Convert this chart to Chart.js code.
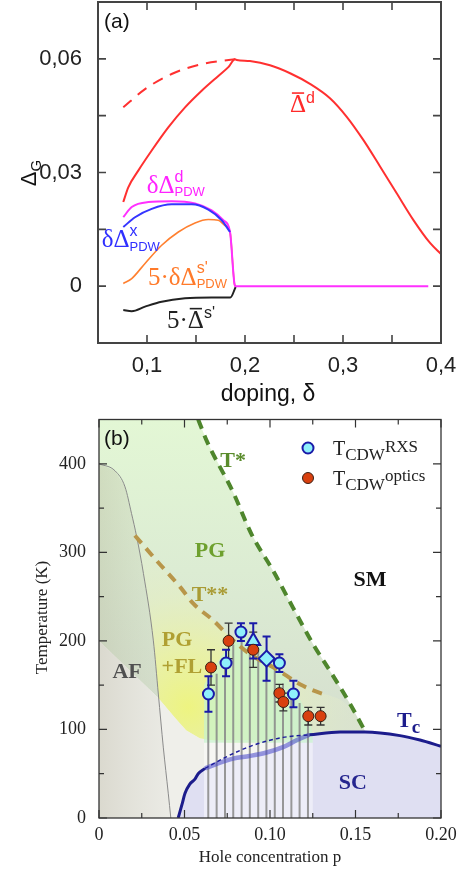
<!DOCTYPE html>
<html>
<head>
<meta charset="utf-8">
<script src="https://cdn.jsdelivr.net/npm/chart.js@4.4.1/dist/chart.umd.min.js"></script>
<style>
  html, body { margin: 0; padding: 0; background: #fff; }
  #wrap { position: relative; width: 465px; height: 872px; }
  canvas { position: absolute; left: 0; }
  #chartA { top: 0; }
  #chartB { top: 412px; }
</style>
</head>
<body>
<div id="wrap">
  <canvas id="chartA" width="465" height="412"></canvas>
  <canvas id="chartB" width="465" height="460"></canvas>
</div>
<script>
// ========================================
// PANEL (a) DATA
// ========================================
const aXTicks = [0.1, 0.15, 0.2, 0.25, 0.3, 0.35];
const aXLabels = [0.1, 0.2, 0.3, 0.4];
const aYTicks = [0, 0.015, 0.03, 0.045, 0.06];
const aYLabels = [0, 0.03, 0.06];

// red, mean d-wave gap
const dBarX = [0.0758, 0.0809, 0.0911, 0.1048, 0.1217, 0.1388, 0.1558, 0.1728, 0.183, 0.1898, 0.1915, 0.205, 0.2255, 0.246, 0.2663, 0.2867, 0.3038, 0.3207, 0.3378, 0.3548, 0.3717, 0.3888, 0.4];
const dBarY = [0.0222, 0.0261, 0.0305, 0.0358, 0.0419, 0.0472, 0.0516, 0.0555, 0.0578, 0.0599, 0.0597, 0.0594, 0.0583, 0.0562, 0.0534, 0.0496, 0.0447, 0.0386, 0.0316, 0.0245, 0.0175, 0.0114, 0.0085];
// red dashed
const dDashX = [0.0758, 0.098, 0.1251, 0.1558, 0.19];
const dDashY = [0.0472, 0.052, 0.056, 0.0586, 0.0599];
// magenta, d-wave PDW
const pdwDX = [0.0758, 0.0844, 0.1013, 0.1252, 0.149, 0.166, 0.1779, 0.1847, 0.1895, 0.1905, 0.387];
const pdwDY = [0.0182, 0.0209, 0.0222, 0.0224, 0.0218, 0.02, 0.0174, 0.0143, 0.0003, 0, 0];
// blue, x PDW
const pdwXX = [0.0758, 0.0878, 0.1048, 0.1252, 0.1456, 0.1626, 0.1762, 0.1847];
const pdwXY = [0.0156, 0.0182, 0.0204, 0.0216, 0.0216, 0.0202, 0.0174, 0.0143];
// orange, 5 x s' PDW
const pdwSX = [0.0758, 0.0844, 0.098, 0.115, 0.132, 0.149, 0.1626, 0.1728, 0.1796, 0.1847, 0.1895, 0.1905];
const pdwSY = [0.0007, 0.002, 0.006, 0.0108, 0.0143, 0.0167, 0.0176, 0.0174, 0.016, 0.0143, 0.0003, 0];
// black, 5 x mean s'
const sBarX = [0.0758, 0.0844, 0.098, 0.115, 0.1388, 0.166, 0.185, 0.1905];
const sBarY = [-0.0063, -0.0066, -0.0054, -0.0041, -0.0032, -0.003, -0.003, -0.0002];

// ========================================
// PANEL (b) DATA
// ========================================
const bXMajor = [0, 0.05, 0.1, 0.15, 0.2];
const bXMinor = [0.025, 0.075, 0.125, 0.175];
const bYMajor = [0, 100, 200, 300, 400];
const bYMinor = [50, 150, 250, 350];

const tStarP = [0.058, 0.0632, 0.0784, 0.0893, 0.1019, 0.1136, 0.1253, 0.1361, 0.1468, 0.1556];
const tStarT = [450, 425, 368, 320, 279, 237, 196, 163, 129, 98];
const tStar2P = [0.021, 0.034, 0.0474, 0.0552, 0.0669, 0.0766, 0.0883, 0.1039, 0.1175, 0.1312, 0.134];
const tStar2T = [319, 290, 261, 242, 223, 204, 185, 168, 151, 140, 139];
const afP = [0, 0.0094, 0.0152, 0.019, 0.022, 0.026, 0.0318, 0.0347, 0.0376, 0.0405, 0.042];
const afT = [400, 392, 374, 344, 318, 276, 200, 140, 80, 28, 0];
// lower edge of the pseudogap shading
const lowEdgeP = [0, 0.035, 0.045, 0.051, 0.059, 0.075, 0.1, 0.123];
const lowEdgeT = [200, 135, 112, 99, 90, 85, 85, 94];
// yellow edge between the end of T** and T*
const fleEdgeP = [0.141, 0.1468];
const fleEdgeT = [134, 125];

const tcLeftP = [0.0463, 0.0485, 0.0503, 0.053, 0.0561, 0.058, 0.062];
const tcLeftT = [0, 15, 28, 38, 44, 50, 56];
const tcMidP = [0.062, 0.07, 0.0784, 0.088, 0.098, 0.1076, 0.1158, 0.123];
const tcMidT = [56, 62, 67, 70, 74, 80, 88, 94];
const tcDashP = [0.062, 0.0755, 0.09, 0.1076, 0.123];
const tcDashT = [56, 70, 82, 91, 94];
const tcRightP = [0.123, 0.141, 0.1556, 0.176, 0.1877, 0.2];
const tcRightT = [94, 97, 97, 93, 88, 81];

const cdwP = [0.0639, 0.0688, 0.0737, 0.0785, 0.0834, 0.0882, 0.0931, 0.0979, 0.1028, 0.1076, 0.1125, 0.1173, 0.1222];
const cdwTop = [140, 163, 176, 196, 206, 203, 192, 180, 172, 152, 145, 130, 110];
const domeP = [0.0614, 0.0614, 0.065, 0.07, 0.0766, 0.0854, 0.093, 0.098, 0.105, 0.112, 0.118, 0.1235, 0.125, 0.125];
const domeT = [85, 150, 163, 178, 196, 206, 200, 188, 170, 150, 132, 110, 90, 85];
const shadeP = [0.0614, 0.125];
const shadeT = [0, 88];

const rxsP = [0.064, 0.0743, 0.083, 0.0902, 0.098, 0.1055, 0.1137];
const rxsT = [140, 175, 210, 200, 180, 175, 140];
const rxsErr = [20, 15, 10, 20, 25, 10, 15];
const rxsShape = ['circle', 'circle', 'circle', 'triangle', 'rectRot', 'circle', 'circle'];
const optP = [0.0655, 0.0758, 0.0902, 0.1055, 0.1078, 0.1224, 0.1296];
const optT = [170, 200, 190, 141, 131, 115, 115];
const optErr = [20, 20, 20, 10, 10, 10, 10];

// ========================================
// HELPERS
// ========================================
const SANS = '"Liberation Sans", Arial, sans-serif';
const SERIF = '"Liberation Serif", "Times New Roman", serif';
const xy = (xs, ys) => xs.map((x, i) => ({ x, y: ys[i] }));
const rev = (a) => a.slice().reverse();

// draws text pieces one after another (sub/superscripts via dy)
function rich(ctx, x, y, parts, align) {
  let w = 0;
  parts.forEach(p => { ctx.font = p.f; if (!p.keep) w += ctx.measureText(p.t).width; });
  let cx = align === 'center' ? x - w / 2 : x;
  parts.forEach(p => {
    ctx.font = p.f;
    const tw = ctx.measureText(p.t).width;
    ctx.fillText(p.t, cx, y + (p.dy || 0));
    if (p.bar) ctx.fillRect(cx + tw * 0.12, y - p.bar, tw * 0.76, 1.6);
    if (!p.keep) cx += tw;
  });
}

function boxTicks(chart, o) {
  const { ctx, chartArea: a, scales } = chart;
  ctx.save();
  ctx.strokeStyle = o.color;
  ctx.lineWidth = o.tickWidth;
  ctx.beginPath();
  o.sets.forEach(s => {
    s.x.forEach(v => {
      const px = scales.x.getPixelForValue(v);
      ctx.moveTo(px, a.bottom); ctx.lineTo(px, a.bottom - s.len);
      ctx.moveTo(px, a.top); ctx.lineTo(px, a.top + s.len);
    });
    s.y.forEach(v => {
      const py = scales.y.getPixelForValue(v);
      ctx.moveTo(a.left, py); ctx.lineTo(a.left + s.len, py);
      ctx.moveTo(a.right, py); ctx.lineTo(a.right - s.len, py);
    });
  });
  ctx.stroke();
  ctx.lineWidth = o.width;
  ctx.strokeRect(a.left, a.top, a.right - a.left, a.bottom - a.top);
  ctx.restore();
}

// fixed axis box sizes, no extra room for overhanging labels
const fixBox = (size) => (s) => {
  if (s.isHorizontal()) s.height = size; else s.width = size;
  s.paddingTop = 0; s.paddingBottom = 0; s.paddingLeft = 0; s.paddingRight = 0;
};

const curve = (data, color, order, extra) => Object.assign({
  data, borderColor: color, borderWidth: 2, pointRadius: 0, fill: false,
  cubicInterpolationMode: 'monotone', order
}, extra || {});

const region = (data, bg, order) => ({
  data, fill: 'shape', backgroundColor: bg, borderColor: 'rgba(0,0,0,0)',
  borderWidth: 1, pointRadius: 0, tension: 0, order
});

// ========================================
// PANEL (a)
// ========================================
const commaFmt = (v) => v === 0 ? '0' : (Math.abs(v) < 0.095 ? v.toFixed(2) : v.toFixed(1)).replace('.', ',');

const panelA = {
  id: 'panelA',
  afterDatasetsDraw(chart) {
    const { ctx, scales: { x, y } } = chart;
    boxTicks(chart, { color: '#444', width: 2, tickWidth: 1.6, sets: [{ x: aXTicks, y: aYTicks, len: 8 }] });
    ctx.save();
    ctx.textBaseline = 'alphabetic';
    const big = '25px ' + SERIF, sup = '16px ' + SANS, sub = '13px ' + SANS;
    const lab = (vx, vy, color, parts) => { ctx.fillStyle = color; rich(ctx, x.getPixelForValue(vx), y.getPixelForValue(vy), parts, 'left'); };
    lab(0.2459, 0.0459, '#ff2a2a', [{ t: 'Δ', f: big, bar: 20 }, { t: 'd', f: sup, dy: -9 }]);
    lab(0.0997, 0.0246, '#ff22ff', [{ t: 'δΔ', f: big }, { t: 'd', f: sup, dy: -11, keep: true }, { t: 'PDW', f: sub, dy: 3 }]);
    lab(0.0537, 0.0104, '#3030ff', [{ t: 'δΔ', f: big }, { t: 'x', f: sup, dy: -11, keep: true }, { t: 'PDW', f: sub, dy: 4 }]);
    lab(0.101, 0.0003, '#ff7a2a', [{ t: '5·δΔ', f: big }, { t: 's\'', f: sup, dy: -12, keep: true }, { t: 'PDW', f: sub, dy: 3 }]);
    lab(0.1204, -0.011, '#222', [{ t: '5·', f: big }, { t: 'Δ', f: big, bar: 20 }, { t: 's\'', f: sup, dy: -10 }]);
    ctx.fillStyle = '#111';
    ctx.font = '21px ' + SANS;
    ctx.fillText('(a)', 104, 28);
    ctx.font = '23px ' + SANS;
    ctx.textAlign = 'center';
    ctx.fillText('doping, δ', 268, 401);
    ctx.textAlign = 'left';
    ctx.translate(36, 173);
    ctx.rotate(-Math.PI / 2);
    rich(ctx, 0, 0, [{ t: 'Δ', f: '22px ' + SANS }, { t: 'G', f: '15px ' + SANS, dy: 5 }], 'center');
    ctx.restore();
  }
};

new Chart(document.getElementById('chartA'), {
  type: 'line',
  data: {
    datasets: [
      curve(xy(dBarX, dBarY), '#ff3030', 1),
      curve(xy(dDashX, dDashY), '#ff3030', 1, { borderDash: [11, 8] }),
      curve(xy(pdwXX, pdwXY), '#3535ff', 2),
      curve(xy(pdwDX, pdwDY), '#ff30ff', 3),
      curve(xy(pdwSX, pdwSY), '#ff8030', 4, { borderWidth: 1.6 }),
      curve(xy(sBarX, sBarY), '#222', 5)
    ]
  },
  options: {
    responsive: false,
    animation: false,
    layout: { padding: { top: 2, right: 24, left: 0, bottom: 0 } },
    plugins: { legend: { display: false }, tooltip: { enabled: false } },
    scales: {
      x: {
        type: 'linear', min: 0.05, max: 0.4,
        grid: { display: false }, border: { display: false },
        afterFit: fixBox(69),
        afterBuildTicks: (s) => { s.ticks = aXLabels.map(v => ({ value: v })); },
        ticks: { autoSkip: false, maxRotation: 0, padding: 2, color: '#222', font: { family: SANS, size: 22 }, callback: commaFmt }
      },
      y: {
        type: 'linear', min: -0.015, max: 0.075,
        grid: { display: false }, border: { display: false },
        afterFit: fixBox(98),
        afterBuildTicks: (s) => { s.ticks = aYLabels.map(v => ({ value: v })); },
        ticks: { autoSkip: false, padding: 8, color: '#222', font: { family: SANS, size: 22 }, callback: commaFmt }
      }
    }
  },
  plugins: [panelA]
});

// ========================================
// PANEL (b)
// ========================================
function greenFill(c) {
  const ch = c.chart;
  if (!ch.chartArea) return '#dfeed6';
  const y = ch.scales.y;
  const g = ch.ctx.createLinearGradient(0, y.getPixelForValue(450), 0, y.getPixelForValue(110));
  g.addColorStop(0, '#e3f7d5');
  g.addColorStop(0.5, '#dcecd3');
  g.addColorStop(1, '#d6e0cf');
  return g;
}
function yellowFill(c) {
  const ch = c.chart;
  if (!ch.chartArea) return '#eef3a8';
  const { x, y } = ch.scales;
  const cx = x.getPixelForValue(0.052), cy = y.getPixelForValue(125);
  const g = ch.ctx.createRadialGradient(cx, cy, 0, cx, cy, 160);
  g.addColorStop(0, 'rgba(240,246,120,0.9)');
  g.addColorStop(0.35, 'rgba(238,244,155,0.75)');
  g.addColorStop(0.7, 'rgba(232,240,190,0.5)');
  g.addColorStop(1, 'rgba(228,236,205,0.3)');
  return g;
}
function afFill(c) {
  const ch = c.chart;
  if (!ch.chartArea) return 'rgba(170,165,140,0.25)';
  const x = ch.scales.x;
  const g = ch.ctx.createLinearGradient(x.getPixelForValue(0), 0, x.getPixelForValue(0.042), 0);
  g.addColorStop(0, 'rgba(165,160,135,0.28)');
  g.addColorStop(1, 'rgba(185,185,170,0.08)');
  return g;
}

const lowEdge = xy(lowEdgeP, lowEdgeT);
const tStar = xy(tStarP, tStarT);
const tStar2 = xy(tStar2P, tStar2T);
const afLine = xy(afP, afT);
const tcLeft = xy(tcLeftP, tcLeftT);
const tcMid = xy(tcMidP, tcMidT);
const tcRight = xy(tcRightP, tcRightT);

const greenRegion = [{ x: 0, y: 450 }, ...tStar, ...rev(lowEdge.slice(1)), lowEdge[0]];
const lowRegion = [{ x: 0, y: 0 }, ...lowEdge, { x: 0.125, y: 0 }];
const yellowRegion = [...tStar2, ...xy(fleEdgeP, fleEdgeT), ...tStar.filter(p => p.x > 0.148),
  ...rev(lowEdge.slice(1)), ...rev(afLine.filter(p => p.y >= 200 && p.y < 330))];
const afRegion = [{ x: 0, y: 0 }, ...afLine];
const scRegion = [...tcLeft, ...tcMid.slice(1), ...tcRight.slice(1), { x: 0.2, y: 0 }];
const shadeRegion = [{ x: shadeP[0], y: shadeT[0] }, { x: shadeP[0], y: shadeT[1] }, { x: shadeP[1], y: shadeT[1] }, { x: shadeP[1], y: shadeT[0] }];
const domeRegion = xy(domeP, domeT);
const cdwLines = cdwP.flatMap((p, i) => [{ x: p, y: 0 }, { x: p, y: cdwTop[i] }, { x: p, y: null }]);

const errSegs = (ps, ts, es) => ps.flatMap((p, i) => [{ x: p, y: ts[i] - es[i] }, { x: p, y: ts[i] + es[i] }, { x: p, y: null }]);
const errCaps = (ps, ts, es) => ps.flatMap((p, i) => [{ x: p, y: ts[i] - es[i] }, { x: p, y: ts[i] + es[i] }]);

const panelB = {
  id: 'panelB',
  afterDatasetsDraw(chart) {
    const { ctx, scales: { x, y } } = chart;
    boxTicks(chart, { color: '#333', width: 1.3, tickWidth: 1.2, sets: [
      { x: bXMajor, y: bYMajor, len: 8 },
      { x: bXMinor, y: bYMinor, len: 5 }
    ] });
    ctx.save();
    const bold = 'bold 22px ' + SERIF;
    const texts = [
      ['T*', 0.0784, 404.5, '#5a8c2c'],
      ['PG', 0.0649, 303, '#6ea02e'],
      ['T**', 0.0649, 253, '#a99b34'],
      ['PG', 0.0456, 203, '#b0a032'],
      ['+FL', 0.0485, 172, '#b0a032'],
      ['AF', 0.0164, 166, '#505050'],
      ['SM', 0.1585, 271, '#111111'],
      ['SC', 0.1485, 41.6, '#26268f']
    ];
    ctx.textAlign = 'center';
    ctx.font = bold;
    texts.forEach(([t, p, T, c]) => {
      ctx.fillStyle = c;
      ctx.fillText(t, x.getPixelForValue(p), y.getPixelForValue(T) + 7.5);
    });
    ctx.textAlign = 'left';
    ctx.fillStyle = '#1c1c8c';
    rich(ctx, x.getPixelForValue(0.1743), y.getPixelForValue(102.4), [{ t: 'T', f: bold }, { t: 'c', f: 'bold 19px ' + SERIF, dy: 6 }], 'left');

    // legend
    const mark = (cx, cy, fill, stroke, lw) => {
      ctx.beginPath(); ctx.arc(cx, cy, 5.5, 0, Math.PI * 2);
      ctx.fillStyle = fill; ctx.fill();
      ctx.lineWidth = lw; ctx.strokeStyle = stroke; ctx.stroke();
    };
    mark(308, 36, '#8ff0fb', '#1a1aa8', 2);
    mark(308, 66, '#d8400f', '#3a2015', 1);
    ctx.fillStyle = '#222';
    rich(ctx, 333, 43, [{ t: 'T', f: '20px ' + SERIF }, { t: 'CDW', f: '17px ' + SERIF, dy: 5 }, { t: 'RXS', f: '17px ' + SERIF, dy: -3 }], 'left');
    rich(ctx, 333, 73, [{ t: 'T', f: '20px ' + SERIF }, { t: 'CDW', f: '17px ' + SERIF, dy: 5 }, { t: 'optics', f: '17px ' + SERIF, dy: -4 }], 'left');

    // titles
    ctx.fillStyle = '#111';
    ctx.font = '21px ' + SANS;
    ctx.fillText('(b)', 104, 33);
    ctx.font = '17px ' + SERIF;
    ctx.fillStyle = '#222';
    ctx.textAlign = 'center';
    ctx.fillText('Hole concentration p', 270, 450);
    ctx.translate(47, 205.5);
    ctx.rotate(-Math.PI / 2);
    ctx.fillText('Temperature (K)', 0, 0);
    ctx.restore();
  }
};

new Chart(document.getElementById('chartB'), {
  type: 'line',
  data: {
    datasets: [
      region(greenRegion, greenFill, 30),
      region(lowRegion, '#efefea', 29),
      region(yellowRegion, yellowFill, 28),
      region(afRegion, afFill, 27),
      region(scRegion, '#dfdff2', 26),
      region(shadeRegion, 'rgba(255,255,255,0.45)', 25),
      region(domeRegion, 'rgba(200,243,205,0.7)', 24),
      { data: cdwLines, borderColor: 'rgba(135,135,135,0.85)', borderWidth: 2, pointRadius: 0, tension: 0, order: 23 },
      curve(afLine, '#8a8a8a', 22, { borderWidth: 1 }),
      curve(tStar2, '#b8964a', 21, { borderWidth: 4, borderDash: [10, 7] }),
      curve(tStar, '#4e862c', 20, { borderWidth: 4, borderDash: [10, 7] }),
      curve(tcMid, 'rgba(70,70,200,0.55)', 19, { borderWidth: 4.5 }),
      curve(xy(tcDashP, tcDashT), '#1c1c9c', 18, { borderWidth: 1.4, borderDash: [4, 3] }),
      curve(tcLeft, '#1c1c8c', 17, { borderWidth: 3 }),
      curve(tcRight, '#1c1c8c', 17, { borderWidth: 3 }),
      { data: errSegs(optP, optT, optErr), borderColor: '#333', borderWidth: 1.3, pointRadius: 0, tension: 0, order: 10 },
      { data: errCaps(optP, optT, optErr), showLine: false, pointStyle: 'line', pointRadius: 4, pointBorderWidth: 1.3, pointBorderColor: '#333', order: 10 },
      { data: errSegs(rxsP, rxsT, rxsErr), borderColor: '#1a1aa8', borderWidth: 2, pointRadius: 0, tension: 0, order: 9 },
      { data: errCaps(rxsP, rxsT, rxsErr), showLine: false, pointStyle: 'line', pointRadius: 4, pointBorderWidth: 2, pointBorderColor: '#1a1aa8', order: 9 },
      { data: xy(rxsP, rxsT), showLine: false, pointStyle: rxsShape, pointRadius: rxsShape.map(s => s === 'circle' ? 5.5 : 8),
        pointBackgroundColor: '#8ff0fb', pointBorderColor: '#1a1aa8', pointBorderWidth: 2, order: 3 },
      { data: xy(optP, optT), showLine: false, pointStyle: 'circle', pointRadius: 5.5,
        pointBackgroundColor: '#d8400f', pointBorderColor: '#3a2015', pointBorderWidth: 1, order: 2 }
    ]
  },
  options: {
    responsive: false,
    animation: false,
    layout: { padding: { top: 6, right: 24, left: 0, bottom: 0 } },
    plugins: { legend: { display: false }, tooltip: { enabled: false } },
    scales: {
      x: {
        type: 'linear', min: 0, max: 0.2,
        grid: { display: false }, border: { display: false },
        afterFit: fixBox(54),
        afterBuildTicks: (s) => { s.ticks = bXMajor.map(v => ({ value: v })); },
        ticks: { autoSkip: false, maxRotation: 0, padding: -2, color: '#222', font: { family: SERIF, size: 18 },
          callback: (v) => v === 0 ? '0' : v.toFixed(2) }
      },
      y: {
        type: 'linear', min: 0, max: 450,
        grid: { display: false }, border: { display: false },
        afterFit: fixBox(99),
        afterBuildTicks: (s) => { s.ticks = bYMajor.map(v => ({ value: v })); },
        ticks: { autoSkip: false, padding: 5, color: '#222', font: { family: SERIF, size: 18 }, callback: (v) => String(v) }
      }
    }
  },
  plugins: [panelB]
});
</script>
</body>
</html>
